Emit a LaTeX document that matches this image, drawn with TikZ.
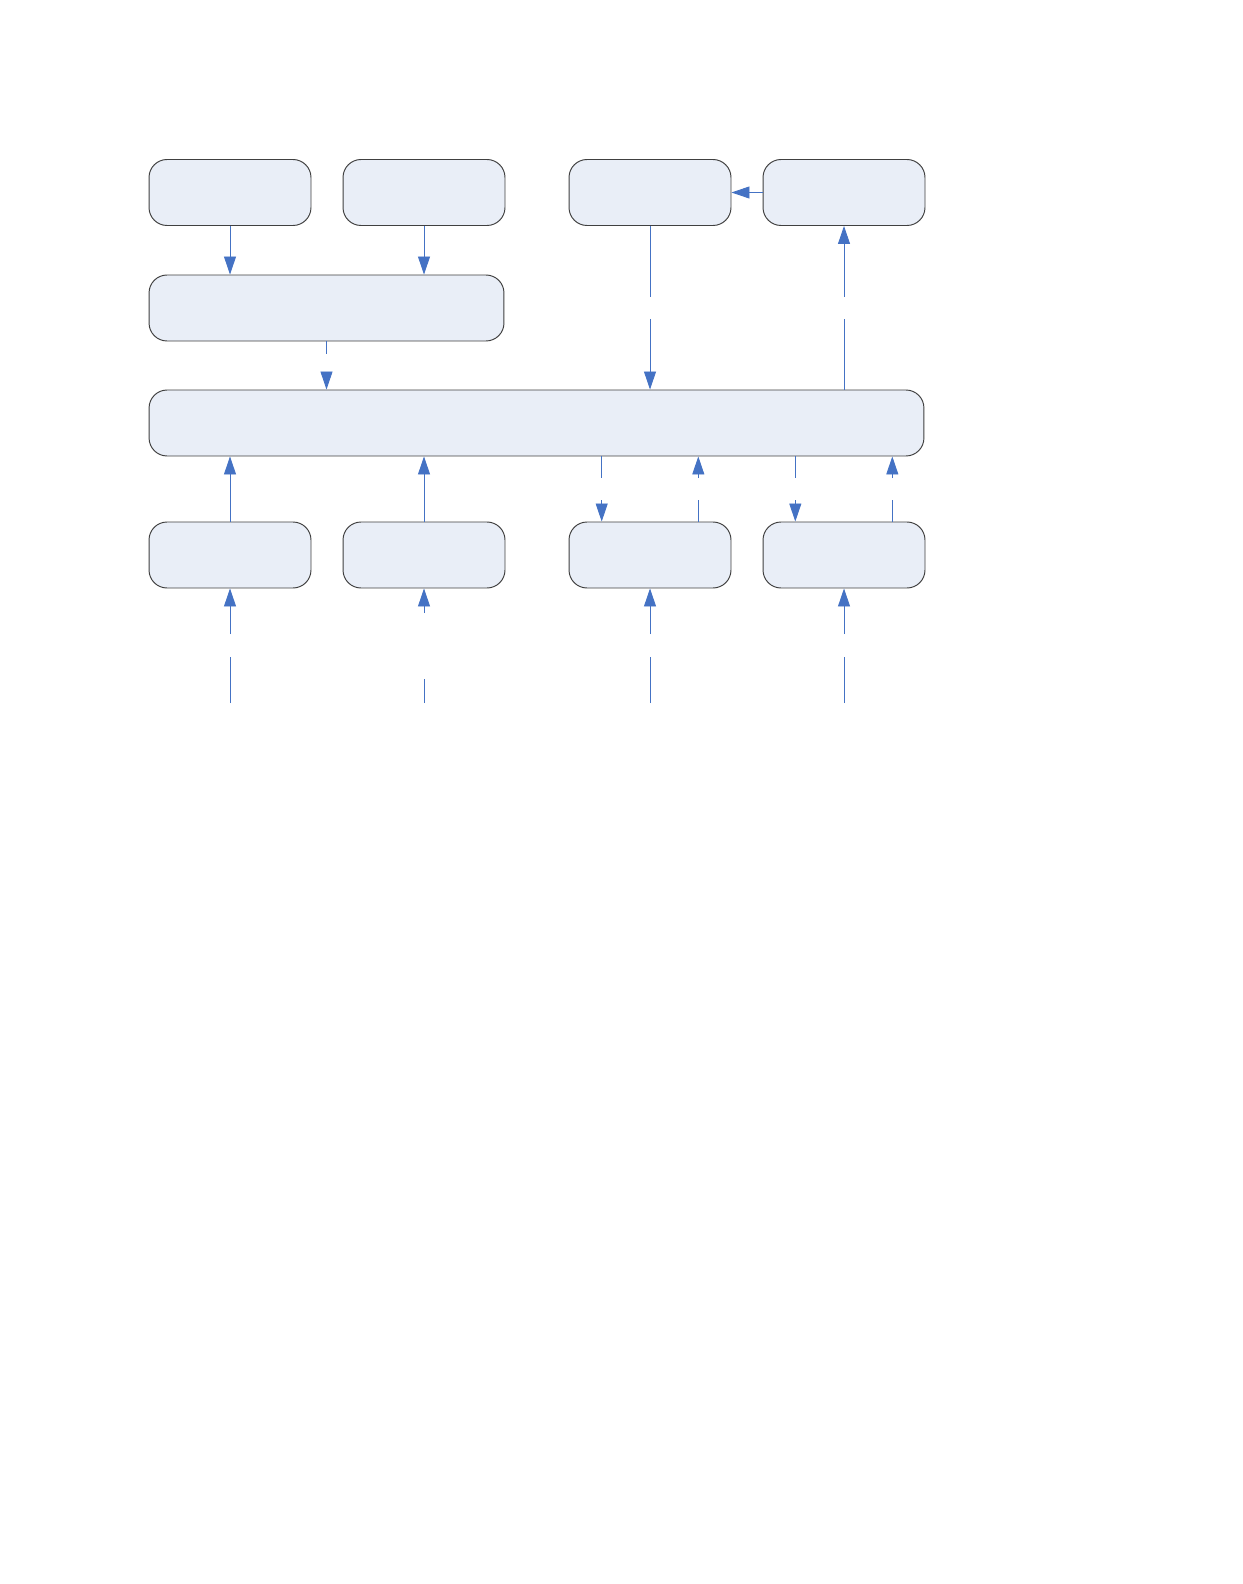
\documentclass[tikz,border=0pt]{standalone}
\usetikzlibrary{arrows.meta}
\definecolor{linkblue}{HTML}{4472C4}
\definecolor{boxfill}{HTML}{E9EEF7}
\definecolor{boxline}{HTML}{404040}
\begin{document}
\begin{tikzpicture}[x=0.02cm,y=-0.02cm,
	blk/.style={draw=boxline,fill=boxfill,rounded corners=0.36cm,line width=0.55pt,minimum width=3.24cm,minimum height=1.32cm,inner sep=0pt},
	wire/.style={linkblue,line width=0.5pt},
	arr/.style={wire,-{Triangle[length=0.36cm,width=0.24cm]}}]

	\fill[white] (0,0) rectangle (1242,1584);
	\useasboundingbox (0,0) rectangle (1242,1584);

	% riga in alto
	\node[blk] (src1) at (230,192.5) {};
	\node[blk] (src2) at (424,192.5) {};
	\node[blk] (outa) at (650,192.5) {};
	\node[blk] (outb) at (844,192.5) {};
	\node[blk,minimum width=7.1cm] (merge) at (326.5,308) {};

	% blocco centrale
	\node[blk,minimum width=15.5cm] (bus) at (536.5,423) {};

	% riga in basso
	\node[blk] (dev1) at (230,555) {};
	\node[blk] (dev2) at (424,555) {};
	\node[blk] (dev3) at (650,555) {};
	\node[blk] (dev4) at (844,555) {};

	% frecce in alto
	\draw[arr] (src1.south) -- (src1.south |- merge.north);
	\draw[arr] (src2.south) -- (src2.south |- merge.north);
	\draw[arr] (outb.west) -- (outa.east);

	\coordinate (m1) at (326.5,354);
	\coordinate (m2) at (326.5,378);
	\draw[wire] (merge.south) -- (m1);
	\draw[arr] (m2) -- (m2 |- bus.north);

	\coordinate (a1) at (650,297);
	\coordinate (a2) at (650,319);
	\draw[wire] (outa.south) -- (a1);
	\draw[arr] (a2) -- (a2 |- bus.north);

	\coordinate (b1) at (844,297);
	\coordinate (b2) at (844,319);
	\draw[wire] (b2 |- bus.north) -- (b2);
	\draw[arr] (b1) -- (outb.south);

	% frecce in basso
	\draw[arr] (dev1.north) -- (dev1.north |- bus.south);
	\draw[arr] (dev2.north) -- (dev2.north |- bus.south);

	\foreach \dn/\up/\dst in {601.7/698.3/dev3, 795.3/892.3/dev4} {
		\coordinate (d1) at (\dn,478);
		\coordinate (d2) at (\dn,500);
		\coordinate (u1) at (\up,478);
		\coordinate (u2) at (\up,500);
		\draw[wire] (d1 |- bus.south) -- (d1);
		\draw[arr] (d2) -- (d2 |- \dst.north);
		\draw[wire] (u2 |- \dst.north) -- (u2);
		\draw[arr] (u1) -- (u1 |- bus.south);
	}

	% ingressi
	\foreach \x/\dst in {230/dev1, 650/dev3, 844/dev4} {
		\draw[wire] (\x,703) -- (\x,657);
		\draw[arr] (\x,634) -- (\dst.south);
	}
	\draw[wire] (424,703) -- (424,679);
	\draw[arr] (424,613) -- (dev2.south);

\end{tikzpicture}
\end{document}
